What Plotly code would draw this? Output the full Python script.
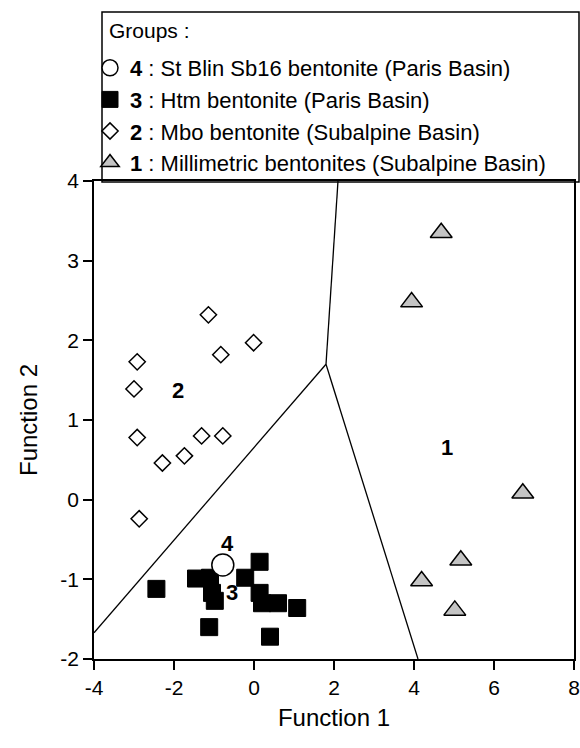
import plotly.graph_objects as go

# ---- data ----
g1_x = [4.68, 3.94, 6.72, 5.17, 4.19, 5.02]
g1_y = [3.35, 2.48, 0.08, -0.76, -1.02, -1.39]

g2_x = [-1.14, -0.01, -0.83, -2.92, -3.00, -2.92, -1.31, -0.78, -1.74, -2.29, -2.87]
g2_y = [2.32, 1.97, 1.82, 1.73, 1.39, 0.78, 0.80, 0.80, 0.55, 0.46, -0.24]

g3_x = [-2.44, -1.45, -1.10, -1.05, -0.98, 0.14, -0.22, 0.14, 0.20, 0.60, 1.08, -1.12, 0.40]
g3_y = [-1.12, -0.99, -0.98, -1.17, -1.27, -0.78, -0.98, -1.17, -1.30, -1.30, -1.36, -1.60, -1.72]

g4_x = [-0.78]
g4_y = [-0.82]

# boundaries between groups (territorial map)
bnd_left_x = [-4.0, 1.80]
bnd_left_y = [-1.67, 1.70]
bnd_top_x = [1.80, 2.10]
bnd_top_y = [1.70, 4.0]
bnd_bot_x = [1.80, 4.10]
bnd_bot_y = [1.70, -2.0]

group_labels = ["1", "2", "3", "4"]
group_label_x = [4.82, -1.91, -0.55, -0.66]
group_label_y = [0.65, 1.37, -1.17, -0.55]

legend_title = "Groups :"
legend_names = [
    "<b>1</b> : Millimetric bentonites (Subalpine Basin)",
    "<b>2</b> : Mbo bentonite (Subalpine Basin)",
    "<b>3</b> : Htm bentonite (Paris Basin)",
    "<b>4</b> : St Blin Sb16 bentonite (Paris Basin)",
]

xticks = [-4, -2, 0, 2, 4, 6, 8]
yticks = [-2, -1, 0, 1, 2, 3, 4]

FONT = "Liberation Sans, Arial, sans-serif"

fig = go.Figure()

for bx, by in [(bnd_left_x, bnd_left_y), (bnd_top_x, bnd_top_y), (bnd_bot_x, bnd_bot_y)]:
    fig.add_trace(go.Scatter(x=bx, y=by, mode="lines", line=dict(color="black", width=1.3),
                             showlegend=False, hoverinfo="skip"))

fig.add_trace(go.Scatter(x=g1_x, y=g1_y, mode="markers", name=legend_names[0], legendrank=4,
                         marker=dict(symbol="triangle-up", size=19, color="#c4c4c4",
                                     line=dict(color="black", width=1.5))))
fig.add_trace(go.Scatter(x=g2_x, y=g2_y, mode="markers", name=legend_names[1], legendrank=3,
                         marker=dict(symbol="diamond", size=12.5, color="white",
                                     line=dict(color="black", width=1.5))))
fig.add_trace(go.Scatter(x=g3_x, y=g3_y, mode="markers", name=legend_names[2], legendrank=2,
                         marker=dict(symbol="square", size=17, color="black",
                                     line=dict(color="black", width=1))))
fig.add_trace(go.Scatter(x=g4_x, y=g4_y, mode="markers", name=legend_names[3], legendrank=1,
                         marker=dict(symbol="circle", size=22, color="white",
                                     line=dict(color="black", width=1.5))))

for t, lx, ly in zip(group_labels, group_label_x, group_label_y):
    fig.add_annotation(x=lx, y=ly, text="<b>%s</b>" % t, showarrow=False,
                       font=dict(family=FONT, size=22, color="black"))

W, H = 580, 748
L, R, T, B = 94, 6, 181, 89
pw, ph = W - L - R, H - T - B

def px_x(p):
    return (p - L) / pw

def px_y(p):
    return (H - B - p) / ph

fig.add_shape(type="rect", xref="paper", yref="paper",
              x0=px_x(102), x1=px_x(579), y0=px_y(182), y1=px_y(12),
              line=dict(color="black", width=1.5), fillcolor="rgba(0,0,0,0)")

fig.add_annotation(xref="paper", yref="paper", x=px_x(107), y=px_y(30),
                   xanchor="left", yanchor="middle", text=legend_title, showarrow=False,
                   font=dict(family=FONT, size=21, color="black"))

fig.update_layout(
    width=W, height=H,
    margin=dict(l=L, r=R, t=T, b=B, autoexpand=False),
    paper_bgcolor="white", plot_bgcolor="white",
    font=dict(family=FONT, color="black"),
    showlegend=True,
    legend=dict(
        x=px_x(90), y=px_y(47), xanchor="left", yanchor="top",
        bgcolor="rgba(0,0,0,0)", borderwidth=0,
        font=dict(family=FONT, size=22, color="black"),
        traceorder="normal",
    ),
    xaxis=dict(
        range=[-4, 8], tickvals=xticks, ticktext=[str(v) for v in xticks],
        showgrid=False, zeroline=False, showline=True, linecolor="black", linewidth=1.5,
        mirror=True, ticks="outside", ticklen=9, tickwidth=1.5, tickcolor="black",
        tickfont=dict(family=FONT, size=21, color="black"),
        title=dict(text="Function 1", font=dict(family=FONT, size=24, color="black"), standoff=11),
    ),
    yaxis=dict(
        range=[-2, 4], tickvals=yticks, ticktext=[str(v) for v in yticks],
        showgrid=False, zeroline=False, showline=True, linecolor="black", linewidth=1.5,
        mirror=True, ticks="outside", ticklen=9, tickwidth=1.5, tickcolor="black",
        tickfont=dict(family=FONT, size=21, color="black"),
        title=dict(text="Function 2", font=dict(family=FONT, size=24, color="black"), standoff=16),
    ),
)

fig.write_html("out.html")
